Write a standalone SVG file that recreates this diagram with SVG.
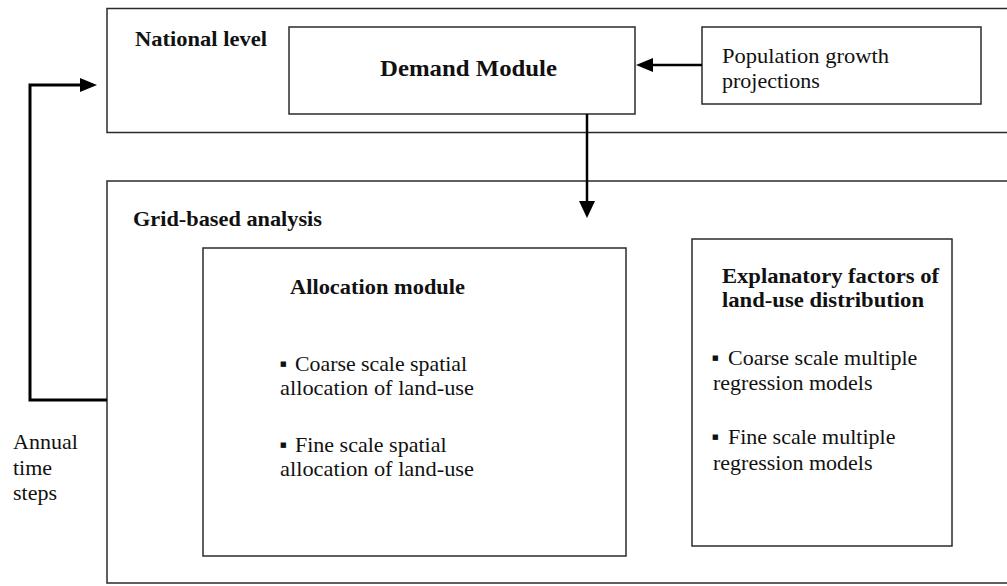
<svg xmlns="http://www.w3.org/2000/svg" width="1007" height="586" viewBox="0 0 1007 586">
<defs>
<style>
.box{fill:#fff;stroke:#2b2b2b;stroke-width:1.5}
.t{font-family:"Liberation Serif","Times New Roman",serif;font-size:22px;fill:#111}
.b{font-family:"Liberation Serif","Times New Roman",serif;font-size:22px;font-weight:bold;fill:#111}
.bul{font-family:"DejaVu Sans",sans-serif;font-size:7px;fill:#111}
.con{fill:none;stroke:#000;stroke-width:2.5}
</style>
</defs>
<rect width="1007" height="586" fill="#fff"/>
<g id="national-level">
<rect class="box" x="107" y="8.5" width="905" height="124"/>
<text class="b" x="135" y="46" textLength="132" lengthAdjust="spacingAndGlyphs">National level</text>
</g>
<g id="grid-based-analysis">
<rect class="box" x="107" y="181" width="905" height="402"/>
<text class="b" x="133" y="226" textLength="189" lengthAdjust="spacingAndGlyphs">Grid-based analysis</text>
</g>
<g id="demand-module">
<rect class="box" x="289" y="27" width="346" height="87"/>
<text class="b" x="380" y="76" style="font-size:23px" textLength="177" lengthAdjust="spacingAndGlyphs">Demand Module</text>
</g>
<g id="population">
<rect class="box" x="702" y="27" width="279" height="77"/>
<text class="t" x="722" y="63" textLength="167" lengthAdjust="spacingAndGlyphs">Population growth</text>
<text class="t" x="722" y="88">projections</text>
</g>
<g id="allocation-module">
<rect class="box" x="203" y="248" width="423" height="308"/>
<text class="b" x="290" y="294" textLength="175" lengthAdjust="spacingAndGlyphs">Allocation module</text>
<text class="bul" x="280" y="366">■</text>
<text class="t" x="295" y="371" textLength="172" lengthAdjust="spacingAndGlyphs">Coarse scale spatial</text>
<text class="t" x="280" y="395" textLength="194" lengthAdjust="spacingAndGlyphs">allocation of land-use</text>
<text class="bul" x="280" y="447">■</text>
<text class="t" x="295" y="452">Fine scale spatial</text>
<text class="t" x="280" y="476" textLength="194" lengthAdjust="spacingAndGlyphs">allocation of land-use</text>
</g>
<g id="explanatory-factors">
<rect class="box" x="692" y="239" width="260" height="307"/>
<text class="b" x="722" y="283" textLength="217" lengthAdjust="spacingAndGlyphs">Explanatory factors of</text>
<text class="b" x="722" y="307" textLength="202" lengthAdjust="spacingAndGlyphs">land-use distribution</text>
<text class="bul" x="712" y="360">■</text>
<text class="t" x="728" y="365">Coarse scale multiple</text>
<text class="t" x="713" y="390">regression models</text>
<text class="bul" x="712" y="439">■</text>
<text class="t" x="728" y="444">Fine scale multiple</text>
<text class="t" x="713" y="470">regression models</text>
</g>
<g id="annual-time-steps">
<text class="t" x="13" y="449">Annual</text>
<text class="t" x="13" y="475">time</text>
<text class="t" x="13" y="500">steps</text>
</g>
<g id="connectors">
<line class="con" x1="702" y1="65" x2="650" y2="65"/>
<polygon points="636,65 653,58 653,72" fill="#000"/>
<line class="con" x1="587" y1="114" x2="587" y2="204"/>
<polygon points="587,218 579,201 595,201" fill="#000"/>
<polyline class="con" style="stroke-width:3" points="107,400 30,400 30,85 84,85"/>
<polygon points="97,85 80,78 80,92" fill="#000"/>
</g>
</svg>
